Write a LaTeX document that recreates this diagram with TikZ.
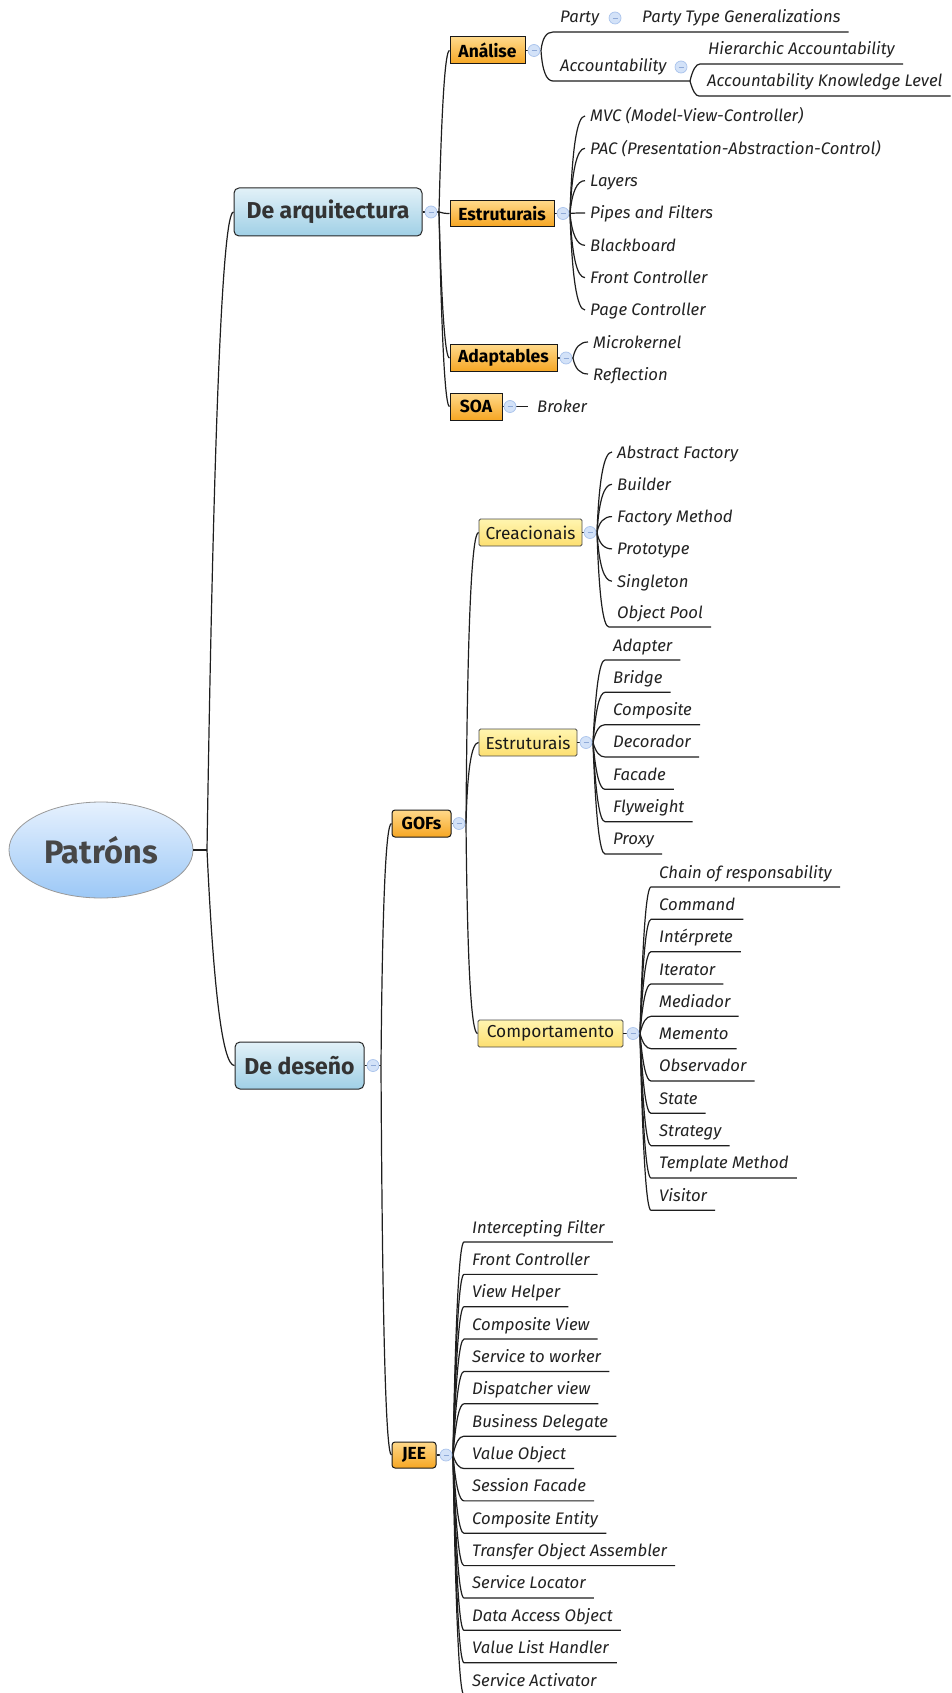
\documentclass[tikz,border=0pt]{standalone}
\usepackage{fontspec}
\setmainfont{Fira Sans}
\usetikzlibrary{shapes.geometric,calc}

\definecolor{linec}{HTML}{1E1E1E}
\definecolor{rootTop}{HTML}{E6F1FE}
\definecolor{rootBot}{HTML}{9CC8F6}
\definecolor{blueTop}{HTML}{E2F1F8}
\definecolor{blueBot}{HTML}{A0D0E6}
\definecolor{orTop}{HTML}{FFD98A}
\definecolor{orBot}{HTML}{F6A623}
\definecolor{yeTop}{HTML}{FFF5B0}
\definecolor{yeBot}{HTML}{FDDF70}
\definecolor{knobFill}{HTML}{D3E2F8}
\definecolor{knobLine}{HTML}{A9C3EC}
\definecolor{knobDash}{HTML}{8FAAD8}
\definecolor{txt}{HTML}{222222}

\tikzset{
  link/.style={draw=linec, line width=1.2pt},
  rootnode/.style={ellipse, draw=gray!80, line width=0.8pt, top color=rootTop, bottom color=rootBot,
    minimum width=184pt, minimum height=96pt, inner sep=0pt,
    font=\fontsize{32.5}{32.5}\selectfont\bfseries, text=black!72},
  mainbox/.style={rectangle, rounded corners=5pt, draw=black!85, line width=1pt, top color=blueTop,
    bottom color=blueBot, font=\fontsize{23}{23}\selectfont\bfseries, text=black!80, inner sep=0pt},
  orbox/.style={rectangle, draw=black!90, line width=1pt, top color=orTop, bottom color=orBot,
    font=\fontsize{17.5}{17.5}\selectfont\bfseries, text=black, inner sep=0pt},
  yebox/.style={rectangle, rounded corners=1.5pt, draw=black!70, line width=0.9pt, top color=yeTop,
    bottom color=yeBot, font=\fontsize{17.3}{17.3}\selectfont, text=black!90, inner sep=0pt},
  leaf/.style={anchor=base west, inner sep=0pt, font=\fontsize{16.7}{16.7}\selectfont\itshape, text=txt},
  knob/.style={circle, draw=knobLine, fill=knobFill, line width=0.7pt, minimum size=12pt, inner sep=0pt},
}

% collapse knob: name, x, y
\newcommand\knob[3]{%
  \node[knob] (#1) at (#2,#3) {};
  \draw[knobDash, line width=0.6pt] ([xshift=-2.5pt]#1.center) -- ([xshift=2.5pt]#1.center);}

% curved connector (quadratic, control point at (start.x + #3, end.y)), #4 = path continuation
\newcommand\qlink[4]{%
  \draw[link] let \p1=(#1), \p2=(#2) in
    (\p1) .. controls ({\x1+0.6667*#3}, {\y1+0.6667*(\y2-\y1)})
            and ({\x2+0.6667*(\x1+#3-\x2)}, \y2) .. (\p2) #4;}

% underlined leaf: name, text x, underline y, parent point, offset, text
\newcommand\ulleaf[6]{%
  \node[leaf] (#1) at (#2,#3-9) {#6};
  \coordinate (#1-l) at (#2-8,#3);
  \coordinate (#1-r) at ($(#1.east |- #1-l)+(8,0)$);
  \qlink{#4}{#1-l}{#5}{-- (#1-r)}}

% plain leaf: name, text x, centre y, parent point, offset, text
\newcommand\hleaf[6]{%
  \node[leaf] (#1) at (#2,#3+6) {#6};
  \coordinate (#1-l) at (#2-5,#3);
  \qlink{#4}{#1-l}{#5}{}}

\begin{document}
\begin{tikzpicture}[x=1pt, y=-1pt]
  \fill[white] (0,0) rectangle (951,1693);
  \useasboundingbox (0,0) rectangle (951,1693);

  % central topic and main branches
  \node[rootnode] (root) at (101,850) {Patróns};
  \node[mainbox, minimum width=188pt, minimum height=48pt] (arq) at (328,212) {De arquitectura};
  \node[mainbox, minimum width=129pt, minimum height=47pt] (des) at (299.5,1065.5) {De deseño};

  \node[orbox, minimum width=75pt, minimum height=27pt] (ana) at (487.5,50.5) {Análise};
  \node[orbox, minimum width=104pt, minimum height=26pt] (est) at (502,213.5) {Estruturais};
  \node[orbox, minimum width=107pt, minimum height=27pt] (ada) at (503.5,358) {Adaptables};
  \node[orbox, minimum width=52pt, minimum height=27pt] (soa) at (476,406.5) {SOA};
  \node[orbox, rounded corners=3pt, minimum width=59pt, minimum height=27pt] (gof) at (421.5,823.5) {GOFs};
  \node[orbox, rounded corners=3pt, minimum width=44pt, minimum height=26pt] (jee) at (414,1455) {JEE};

  \node[yebox, minimum width=103pt, minimum height=27pt] (cre) at (530.5,532.5) {Creacionais};
  \node[yebox, minimum width=98pt, minimum height=27pt] (egof) at (528,742.5) {Estruturais};
  \node[yebox, minimum width=145pt, minimum height=27pt] (com) at (550.5,1033.5) {Comportamento};

  % branch points just past each knob
  \coordinate (p0) at (207,850);
  \coordinate (parq) at (439,212);
  \coordinate (pdes) at (381,1065.5);
  \coordinate (pana) at (541,50.5);
  \coordinate (pest) at (570,213.5);
  \coordinate (pada) at (573,358);
  \coordinate (pgof) at (466,823.5);
  \coordinate (pcre) at (597,532.5);
  \coordinate (pegof) at (593,742.5);
  \coordinate (pcom) at (640,1033.5);
  \coordinate (pjee) at (453,1455);
  \coordinate (pacc) at (690,81);

  \draw[link] (root.east) -- (p0);
  \draw[link] (arq.east) -- (parq);
  \draw[link] (des.east) -- (pdes);
  \draw[link] (ana.east) -- (pana);
  \draw[link] (est.east) -- (pest);
  \draw[link] (ada.east) -- (pada);
  \draw[link] (gof.east) -- (pgof);
  \draw[link] (cre.east) -- (pcre);
  \draw[link] (egof.east) -- (pegof);
  \draw[link] (com.east) -- (pcom);
  \draw[link] (jee.east) -- (pjee);

  \qlink{p0}{arq.west}{10}{}
  \qlink{p0}{des.west}{10}{}
  \qlink{parq}{ana.west}{4}{}
  \qlink{parq}{est.west}{4}{}
  \qlink{parq}{ada.west}{4}{}
  \qlink{parq}{soa.west}{4}{}
  \qlink{pdes}{gof.west}{2}{}
  \qlink{pdes}{jee.west}{2}{}
  \qlink{pgof}{cre.west}{2}{}
  \qlink{pgof}{egof.west}{2}{}
  \qlink{pgof}{com.west}{2}{}

  % Análise
  \node[leaf] (party) at (560,23) {Party};
  \node[leaf] (ptg) at (642,23) {Party Type Generalizations};
  \coordinate (party-l) at (553,32);
  \coordinate (ptg-r) at ($(ptg.east |- party-l)+(8,0)$);
  \qlink{pana}{party-l}{2}{-- (ptg-r)}
  \node[leaf] (acc) at (560,72) {Accountability};
  \coordinate (acc-l) at (553,81);
  \qlink{pana}{acc-l}{2}{-- (pacc)}
  \ulleaf{hier}{708}{64}{pacc}{4}{Hierarchic Accountability}
  \ulleaf{akl}{707}{96}{pacc}{4}{Accountability Knowledge Level}

  % Estruturais (arquitectura)
  \foreach \t [count=\i from 0] in {MVC (Model-View-Controller),
      PAC (Presentation-Abstraction-Control), Layers, Pipes and Filters,
      Blackboard, Front Controller, Page Controller}
    {\hleaf{ea\i}{590}{116+32.33*\i}{pest}{3}{\t}}

  % Adaptables
  \hleaf{mk}{593}{342}{pada}{3}{Microkernel}
  \hleaf{rf}{593}{374}{pada}{3}{Reflection}

  % SOA
  \coordinate (brok-l) at (528,406.5);
  \draw[link] (soa.east) -- (brok-l);
  \node[leaf] (brok) at (537,412.5) {Broker};

  % Creacionais
  \foreach \t [count=\i from 0] in {Abstract Factory, Builder, Factory Method, Prototype, Singleton}
    {\hleaf{cr\i}{617}{452+32.3*\i}{pcre}{3}{\t}}
  \ulleaf{opool}{617}{627}{pcre}{3}{Object Pool}

  % Estruturais (GoF)
  \foreach \t [count=\i from 0] in {Adapter, Bridge, Composite, Decorador, Facade, Flyweight, Proxy}
    {\ulleaf{eg\i}{613}{660+32.33*\i}{pegof}{4}{\t}}

  % Comportamento
  \foreach \t [count=\i from 0] in {Chain of responsability, Command, Intérprete, Iterator,
      Mediador, Memento, Observador, State, Strategy, Template Method, Visitor}
    {\ulleaf{cm\i}{659}{887+32.33*\i}{pcom}{4}{\t}}

  % JEE
  \foreach \t [count=\i from 0] in {Intercepting Filter, Front Controller, View Helper,
      Composite View, Service to worker, Dispatcher view, Business Delegate, Value Object,
      Session Facade, Composite Entity, Transfer Object Assembler, Service Locator,
      Data Access Object, Value List Handler, Service Activator}
    {\ulleaf{je\i}{472}{1242+32.36*\i}{pjee}{4}{\t}}

  % collapse knobs
  \knob{k-arq}{431}{212}
  \knob{k-des}{373}{1065.5}
  \knob{k-ana}{534}{50.5}
  \knob{k-est}{563}{213.5}
  \knob{k-ada}{566}{358}
  \knob{k-soa}{510}{406.5}
  \knob{k-gof}{459}{823.5}
  \knob{k-jee}{446}{1455}
  \knob{k-cre}{590}{532.5}
  \knob{k-egof}{586}{742.5}
  \knob{k-com}{633}{1033.5}
  \knob{k-party}{615}{18}
  \knob{k-acc}{681}{67}
\end{tikzpicture}
\end{document}
